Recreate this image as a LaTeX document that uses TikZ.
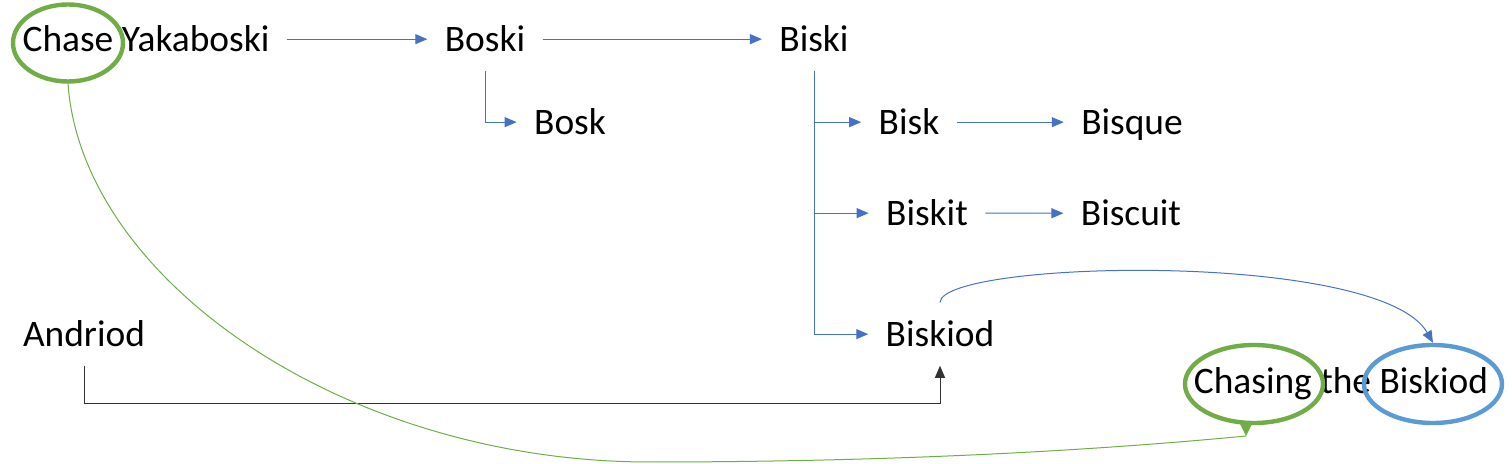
\documentclass[tikz,border=0pt]{standalone}
\usepackage{fontspec}
\setmainfont{Carlito}
\usetikzlibrary{arrows.meta,shapes.geometric}
\definecolor{linkblue}{HTML}{4472C4}
\definecolor{ringgreen}{HTML}{70AD47}
\definecolor{ringblue}{HTML}{5B9BD5}

\begin{document}
\begin{tikzpicture}[x=.5pt,y=-.5pt,>={Triangle[length=6pt,width=5pt]},line width=.5pt,
  font=\fontsize{18.7}{22}\selectfont,
  word/.style={anchor=base,inner xsep=8.5pt,inner ysep=9pt},
  link/.style={->,draw=linkblue},
  ring/.style={ellipse,draw,line width=2.2pt,inner sep=0pt}]
  \useasboundingbox (0,0) rectangle (1512,464);
  % words
  \node[word] (cy) at (146,52) {Chase Yakaboski};
  \node[word] (boski) at (485,52) {Boski};
  \node[word] (biski) at (814,52) {Biski};
  \node[word] (bosk) at (570,135) {Bosk};
  \node[word] (bisk) at (909,135) {Bisk};
  \node[word] (bisque) at (1132,135) {Bisque};
  \node[word] (biskit) at (927,226) {Biskit};
  \node[word] (biscuit) at (1131,226) {Biscuit};
  \node[word] (andriod) at (84,347) {Andriod};
  \node[word] (biskiod) at (940,347) {Biskiod};
  \node[word] (title) at (1341,394) {Chasing the Biskiod};
  % rings
  \node[ring,draw=ringgreen,minimum width=55pt,minimum height=38.5pt] (chaseRing) at (68,43) {};
  \node[ring,draw=ringgreen,minimum width=69pt,minimum height=39pt] (chasingRing) at (1254,384) {};
  \node[ring,draw=ringblue,minimum width=69pt,minimum height=39pt] (biskiodRing) at (1433,384) {};
  \coordinate (gtip) at (1246,436);
  % blue links
  \draw[link] (cy.east |- boski.east) -- (boski.west);
  \draw[link] (boski) -- (biski);
  \draw[link] (boski.south) |- (bosk.west);
  \draw[link] (biski.south) |- (bisk.west);
  \draw[link] (biski.south) |- (biskit.west);
  \draw[link] (biski.south) |- (biskiod.west);
  \draw[link] (bisk.east) -- (bisque.west |- bisk.east);
  \draw[link] (biskit) -- (biscuit);
  \draw[link] (biskiod.north) .. controls (941,260) and (1380,250) .. (biskiodRing.north);
  % black link
  \draw[->,draw=black!80] (andriod.south) -- ++(0,38) -| (biskiod.south);
  % green curve
  \draw[ringgreen] (chaseRing.south) .. controls (82,280) and (345,462) .. (650,462)
    .. controls (900,462) and (1100,450) .. (gtip);
  \fill[ringgreen] (gtip) -- ++(-7,-14) -- ++(14,0) -- cycle;
\end{tikzpicture}
\end{document}
